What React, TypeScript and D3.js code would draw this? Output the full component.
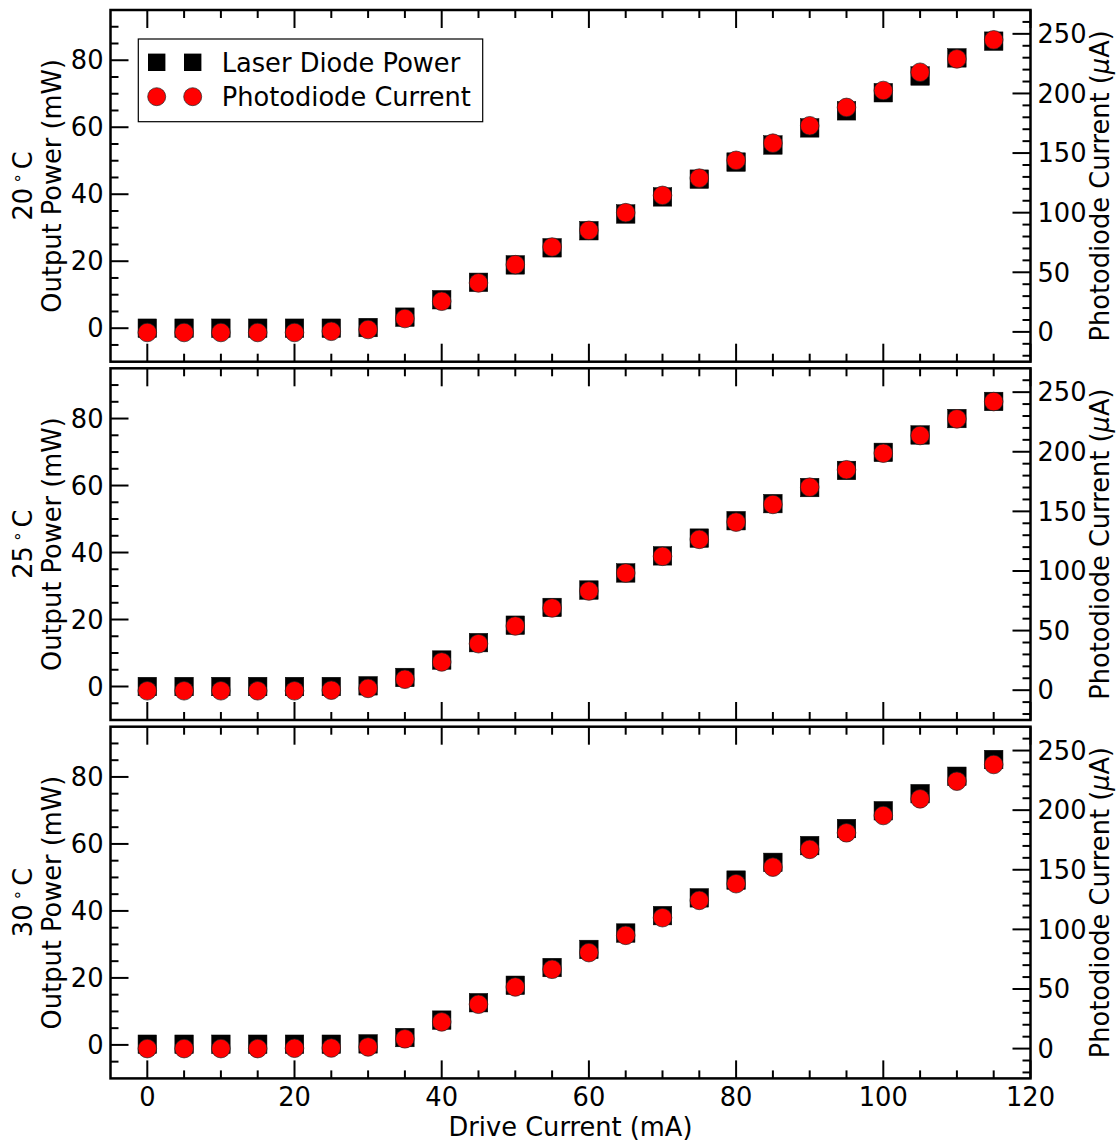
import React from "react";
import * as d3 from "d3";

const driveCurrent = [0, 5, 10, 15, 20, 25, 30, 35, 40, 45, 50, 55, 60, 65, 70, 75, 80, 85, 90, 95, 100, 105, 110, 115];

const power20 = [0, 0, 0, 0, 0, 0, 0.2, 3.3, 8.5, 13.7, 18.9, 24.0, 29.1, 34.1, 39.2, 44.5, 49.6, 54.7, 59.8, 64.9, 70.3, 75.3, 80.7, 85.7];
const current20 = [-0.5, -0.5, -0.5, -0.5, -0.5, 0.5, 2.0, 11.2, 25.7, 41.1, 56.4, 71.2, 85.2, 100, 114.5, 129, 143.9, 158.3, 172.9, 188.3, 202.5, 217.8, 229, 245];

const power25 = [0, 0, 0, 0, 0, 0, 0.2, 2.7, 7.9, 13.1, 18.3, 23.6, 28.8, 33.9, 39.0, 44.3, 49.5, 54.6, 59.4, 64.5, 69.9, 75.1, 80.0, 85.1];
const current25 = [-0.5, -0.5, -0.5, -0.5, -0.5, 0, 1.5, 9.2, 23.7, 39.0, 53.9, 69.0, 83.2, 98.3, 112.3, 126.5, 141, 155.8, 170.3, 184.9, 198.8, 213.6, 227.6, 242.1];

const power30 = [0.2, 0.2, 0.2, 0.2, 0.2, 0.2, 0.3, 2.2, 7.4, 12.6, 17.8, 23.1, 28.5, 33.4, 38.6, 43.9, 49.2, 54.5, 59.5, 64.6, 69.9, 75.0, 80.2, 85.2];
const current30 = [0, 0, 0, 0, 0.3, 0.5, 1.4, 8.2, 22.4, 37.2, 51.7, 66.5, 80.5, 95.0, 109.8, 124.3, 138.3, 152.2, 167.1, 181.0, 195.5, 209.5, 224.3, 238.3];

const temperatures = ["20", "25", "30"];
const powerSeries = [power20, power25, power30];
const currentSeries = [current20, current25, current30];

const xMajorTicks = [0, 20, 40, 60, 80, 100, 120];
const leftMajorTicks = [0, 20, 40, 60, 80];
const rightMajorTicks = [0, 50, 100, 150, 200, 250];

const FONT = "DejaVu Sans";
const W = 1120;
const H = 1142;
const LEFT = 110.5;
const RIGHT = 1030.5;
const PANEL_TOPS = [10, 368.3, 726.7];
const PANEL_H = 351.7;
const MAJOR = 18;
const MINOR = 8;
const FS = 25.7;

function range(a: number, b: number, s: number) {
  const out: number[] = [];
  for (let v = a; v <= b + 1e-9; v += s) out.push(v);
  return out;
}

function Panel({ idx }: { idx: number }) {
  const top = PANEL_TOPS[idx];
  const bottom = top + PANEL_H;
  const x = d3.scaleLinear().domain([-5, 120]).range([LEFT, RIGHT]);
  const yL = d3.scaleLinear().domain([-10, 95]).range([bottom, top]);
  const yR = d3.scaleLinear().domain([-25, 270]).range([bottom, top]);
  const xMinor = range(0, 115, 5).filter((v) => v % 20 !== 0);
  const lMinor = range(-5, 90, 5).filter((v) => v % 20 !== 0);
  const rMinor = range(-20, 260, 10).filter((v) => v % 50 !== 0);
  const power = powerSeries[idx];
  const current = currentSeries[idx];
  const cy = (top + bottom) / 2;
  const isBottom = idx === 2;
  const sq = 18.5;
  return (
    <g>
      {driveCurrent.map((d, i) => (
        <rect key={"s" + i} x={x(d) - sq / 2} y={yL(power[i]) - sq / 2} width={sq} height={sq} fill="#000" stroke="#000" strokeWidth={0.5} />
      ))}
      {driveCurrent.map((d, i) => (
        <circle key={"c" + i} cx={x(d)} cy={yR(current[i])} r={9.3} fill="#ff0000" stroke="#222" strokeWidth={0.7} />
      ))}
      {xMajorTicks.map((v) => (
        <g key={"xm" + v}>
          <line x1={x(v)} x2={x(v)} y1={bottom} y2={bottom - MAJOR} stroke="#000" strokeWidth={2} />
          <line x1={x(v)} x2={x(v)} y1={top} y2={top + MAJOR} stroke="#000" strokeWidth={2} />
        </g>
      ))}
      {xMinor.map((v) => (
        <g key={"xn" + v}>
          <line x1={x(v)} x2={x(v)} y1={bottom} y2={bottom - MINOR} stroke="#000" strokeWidth={2} />
          <line x1={x(v)} x2={x(v)} y1={top} y2={top + MINOR} stroke="#000" strokeWidth={2} />
        </g>
      ))}
      {leftMajorTicks.map((v) => (
        <g key={"lm" + v}>
          <line x1={LEFT} x2={LEFT + MAJOR} y1={yL(v)} y2={yL(v)} stroke="#000" strokeWidth={2} />
          <text x={LEFT - 7} y={yL(v)} dy="0.36em" textAnchor="end" fontSize={FS} fontFamily={FONT}>{v}</text>
        </g>
      ))}
      {lMinor.map((v) => (
        <line key={"ln" + v} x1={LEFT} x2={LEFT + MINOR} y1={yL(v)} y2={yL(v)} stroke="#000" strokeWidth={2} />
      ))}
      {rightMajorTicks.map((v) => (
        <g key={"rm" + v}>
          <line x1={RIGHT} x2={RIGHT - MAJOR} y1={yR(v)} y2={yR(v)} stroke="#000" strokeWidth={2} />
          <text x={RIGHT + 7} y={yR(v)} dy="0.36em" textAnchor="start" fontSize={FS} fontFamily={FONT}>{v}</text>
        </g>
      ))}
      {rMinor.map((v) => (
        <line key={"rn" + v} x1={RIGHT} x2={RIGHT - MINOR} y1={yR(v)} y2={yR(v)} stroke="#000" strokeWidth={2} />
      ))}
      <rect x={LEFT} y={top} width={RIGHT - LEFT} height={PANEL_H} fill="none" stroke="#000" strokeWidth={2.5} />
      {isBottom &&
        xMajorTicks.map((v) => (
          <text key={"xl" + v} x={x(v)} y={bottom + 18} dy="0.36em" textAnchor="middle" fontSize={FS} fontFamily={FONT}>{v}</text>
        ))}
      <text transform={`translate(32,${cy}) rotate(-90)`} textAnchor="middle" fontSize={FS} fontFamily={FONT}>
        <tspan>{temperatures[idx]}</tspan>
        <tspan fontSize={17} dx={4} dy={-9}>{"\u2218"}</tspan>
        <tspan dx={4} dy={9}>C</tspan>
      </text>
      <text transform={`translate(61,${cy}) rotate(-90)`} textAnchor="middle" fontSize={FS} fontFamily={FONT}>Output Power (mW)</text>
      <text transform={`translate(1109,${cy}) rotate(-90)`} textAnchor="middle" fontSize={FS} fontFamily={FONT}>
        <tspan>Photodiode Current (</tspan>
        <tspan fontStyle="italic">μ</tspan>
        <tspan>A)</tspan>
      </text>
    </g>
  );
}

function Legend() {
  const rows = [
    { label: "Laser Diode Power", kind: "square" },
    { label: "Photodiode Current", kind: "circle" },
  ];
  const ys = [62.3, 96.7];
  const xs = [156.7, 192.7];
  return (
    <g>
      <rect x={138.3} y={39} width={344.4} height={82.7} fill="#fff" stroke="#000" strokeWidth={1.2} />
      {rows.map((r, i) => (
        <g key={r.label}>
          {xs.map((mx) =>
            r.kind === "square" ? (
              <rect key={mx} x={mx - 8.7} y={ys[i] - 8.7} width={17.4} height={17.4} fill="#000" />
            ) : (
              <circle key={mx} cx={mx} cy={ys[i]} r={9} fill="#ff0000" stroke="#222" strokeWidth={0.7} />
            )
          )}
          <text x={221.7} y={ys[i]} dy="0.36em" fontSize={FS} fontFamily={FONT}>{r.label}</text>
        </g>
      ))}
    </g>
  );
}

export default function App() {
  return (
    <svg width={W} height={H} style={{ position: "absolute", left: 0, top: 0, background: "#fff" }}>
      <rect x={0} y={0} width={W} height={H} fill="#fff" />
      {[0, 1, 2].map((i) => (
        <Panel key={i} idx={i} />
      ))}
      <Legend />
      <text x={(LEFT + RIGHT) / 2} y={1127} dy="0.36em" textAnchor="middle" fontSize={FS} fontFamily={FONT}>Drive Current (mA)</text>
    </svg>
  );
}
